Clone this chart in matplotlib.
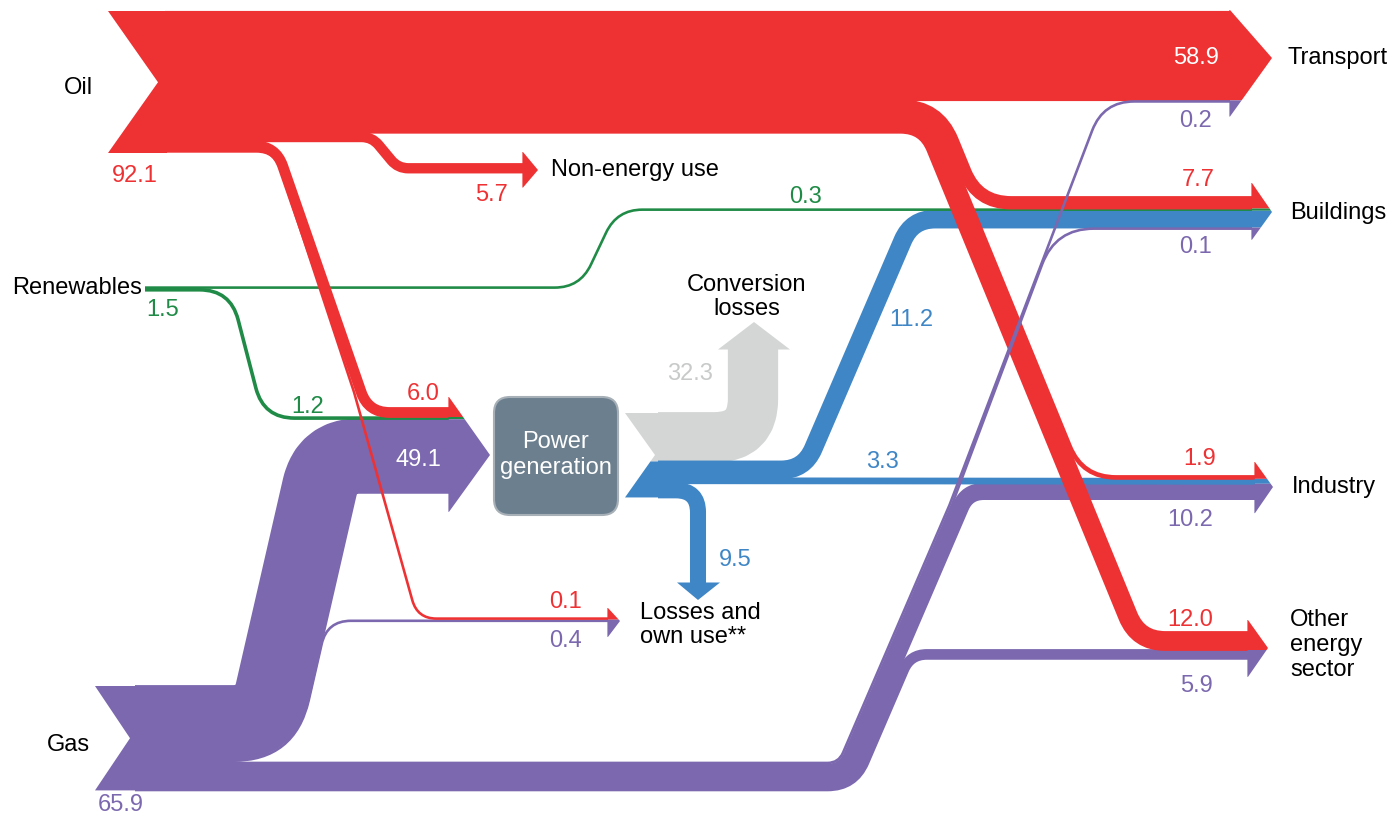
"""Energy flow Sankey: oil, renewables and gas through power generation to end uses."""

import matplotlib
matplotlib.use("Agg")
import matplotlib.pyplot as plt
import numpy as np
from matplotlib.path import Path
from matplotlib.patches import PathPatch, Polygon, FancyBboxPatch

plt.rcParams["font.family"] = ["Liberation Sans", "DejaVu Sans"]

# ---- data ----
source_names = ["Oil", "Renewables", "Gas"]
source_totals = [92.1, 1.5, 65.9]

oil_targets = ["transport", "buildings", "industry", "other", "nonenergy", "power", "losses"]
oil_values = [58.9, 7.7, 1.9, 12.0, 5.7, 6.0, 0.1]

ren_targets = ["buildings", "power"]
ren_values = [0.3, 1.2]

gas_targets = ["power", "losses", "transport", "buildings", "industry", "other"]
gas_values = [49.1, 0.4, 0.2, 0.1, 10.2, 5.9]

pg_targets = ["conversion", "buildings", "industry", "losses"]
pg_values = [32.3, 11.2, 3.3, 9.5]

target_names = {
    "transport": "Transport",
    "buildings": "Buildings",
    "industry": "Industry",
    "other": "Other\nenergy\nsector",
    "nonenergy": "Non-energy use",
    "conversion": "Conversion\nlosses",
    "losses": "Losses and\nown use**",
}

# ---- style ----
RED = "#ee3234"
PURPLE = "#7b68ae"
GREEN = "#1f8b46"
BLUE = "#3f86c6"
GRAY = "#d4d5d5"
BOX = "#6c7f8f"
COLORS = {"oil": RED, "ren": GREEN, "gas": PURPLE, "pg": BLUE}
FS = 17

S = 1.5          # px per unit
PT = 72 / 100    # px -> points at dpi 100


def band_w(v):
    return max(S * v + 1.8, 2.6)


def stack_h(v):
    return max(S * v, 2.2)


def stack(top, keys, vals):
    out = {}
    y = top
    for k, v in zip(keys, vals):
        h = stack_h(v)
        out[k] = (y, y + h, y + h / 2)
        y += h
    return out


val = {}
for src, tg, vs in [("oil", oil_targets, oil_values), ("ren", ren_targets, ren_values),
                    ("gas", gas_targets, gas_values), ("pg", pg_targets, pg_values)]:
    for t, v in zip(tg, vs):
        val[(src, t)] = v

src_stack = {
    "oil": stack(12, oil_targets, oil_values),
    "ren": stack(286.5, ren_targets, ren_values),
    "gas": stack(686, gas_targets, gas_values),
    "pg": stack(413, pg_targets, pg_values),
}

dest_order = {
    "transport": ["oil", "gas"],
    "buildings": ["oil", "ren", "pg", "gas"],
    "industry": ["oil", "pg", "gas"],
    "other": ["oil", "gas"],
    "nonenergy": ["oil"],
    "power": ["oil", "ren", "gas"],
    "losses": ["oil", "gas"],
}
dest_top = {"transport": 12, "buildings": 197, "industry": 476, "other": 632,
            "nonenergy": 164, "power": 408, "losses": 617.5}
dst_stack = {d: stack(dest_top[d], o, [val[(s, d)] for s in o]) for d, o in dest_order.items()}

# barb x, tip x, tip y, extension above, extension below
arrow_spec = {
    "transport": (1230, 1272, 58, 2, 14),
    "buildings": (1252, 1272, 212, 14, 10),
    "industry": (1255, 1273, 487, 14, 14),
    "other": (1248, 1268, 648, 12, 18),
    "nonenergy": (523, 538, 170, 12, 15),
    "power": (449, 490, 455, 11, 19),
    "losses": (608, 620, 621, 9.5, 15),
}


def rounded_path(points, radii):
    pts = [np.asarray(p, float) for p in points]
    n = len(pts)
    if np.isscalar(radii):
        radii = [radii] * (n - 2)
    verts = [pts[0]]
    codes = [Path.MOVETO]
    for i in range(1, n - 1):
        a, p, b = pts[i - 1], pts[i], pts[i + 1]
        la = np.linalg.norm(p - a)
        lb = np.linalg.norm(b - p)
        u1 = (p - a) / la
        u2 = (b - p) / lb
        ang = np.arccos(np.clip(np.dot(u1, u2), -1, 1))
        if ang < 1e-6 or radii[i - 1] <= 0:
            verts.append(p)
            codes.append(Path.LINETO)
            continue
        t = radii[i - 1] * np.tan(ang / 2)
        t = min(t, la * (0.5 if i > 1 else 1.0), lb * (0.5 if i < n - 2 else 1.0))
        verts += [p - u1 * t, p, p + u2 * t]
        codes += [Path.LINETO, Path.CURVE3, Path.CURVE3]
    verts.append(pts[-1])
    codes.append(Path.LINETO)
    return Path(verts, codes)


def clip_half(poly, y_line, keep_le):
    out = []
    n = len(poly)
    for i in range(n):
        p, q = poly[i], poly[(i + 1) % n]
        pin = p[1] <= y_line if keep_le else p[1] >= y_line
        qin = q[1] <= y_line if keep_le else q[1] >= y_line
        if pin:
            out.append(p)
        if pin != qin:
            t = (y_line - p[1]) / (q[1] - p[1])
            out.append((p[0] + t * (q[0] - p[0]), y_line))
    return out


def main():
    fig = plt.figure(figsize=(13.93, 8.17), dpi=100)
    ax = fig.add_axes([0, 0, 1, 1])
    ax.set_xlim(0, 1393)
    ax.set_ylim(817, 0)
    ax.axis("off")

    def flow(points, radii, v, color, z):
        ax.add_patch(PathPatch(rounded_path(points, radii), fill=False, ec=color,
                               lw=band_w(v) * PT, capstyle="butt", joinstyle="round",
                               zorder=z))

    def ys(s, t):
        return src_stack[s][t][2]

    def yd(s, t):
        return dst_stack[t][s][2]

    def xend(t):
        return arrow_spec[t][0]

    X_OIL, X_GAS, X_REN, X_PG = 165, 135, 145, 658

    # ---- oil ----
    st = src_stack["oil"]
    flow([(X_OIL, ys("oil", "transport")), (xend("transport"), yd("oil", "transport"))],
         0, val[("oil", "transport")], RED, 6)
    # red bundle to buildings / industry / other, running down a diagonal
    bc = (st["buildings"][0] + st["other"][1]) / 2
    dx0, dy0, ds = 1039, 380, 0.41
    kf = np.hypot(1, ds)
    r1 = {"buildings": 55, "industry": 48, "other": 38}
    r2 = {"buildings": 50, "industry": 50, "other": 40}
    for t in ["other", "industry", "buildings"]:
        d = ys("oil", t) - bc
        xm = lambda y, d=d: dx0 - kf * d + ds * (y - dy0)
        y1, y2 = ys("oil", t), yd("oil", t)
        flow([(X_OIL, y1), (xm(y1), y1), (xm(y2), y2), (xend(t), y2)],
             [r1[t], r2[t]], val[("oil", t)], RED, 6)
    y1, y2 = ys("oil", "nonenergy"), yd("oil", "nonenergy")
    flow([(X_OIL, y1), (372, y1), (398, y2), (xend("nonenergy"), y2)], [22, 22],
         val[("oil", "nonenergy")], RED, 6)
    y1, y2 = ys("oil", "power"), yd("oil", "power")
    xm = lambda y: 290 + 0.347 * (y - 187)
    flow([(X_OIL, y1), (xm(y1), y1), (xm(y2), y2), (xend("power"), y2)], [30, 30],
         val[("oil", "power")], RED, 6)
    # thin losses line hides inside the power branch, then runs on alone
    y1, y2 = ys("oil", "losses"), yd("oil", "losses")
    xm = lambda y: 287 + 0.347 * (y - 187)
    xq = lambda y: 354 + 0.28 * (y - 392)
    flow([(X_OIL, y1), (xm(y1), y1), (xq(392), 392), (xq(y2), y2), (xend("losses"), y2)],
         [25, 40, 25], val[("oil", "losses")], RED, 6.5)
    yb = st["losses"][1]
    ax.add_patch(Polygon([(108, 11), (167, 11), (167, yb + 0.5), (108, yb + 0.5),
                          (158, (12 + yb) / 2)], closed=True, fc=RED, ec="none", zorder=6))

    # ---- renewables ----
    y1, y2 = ys("ren", "buildings"), yd("ren", "buildings")
    flow([(X_REN, y1), (580, y1), (617, y2), (xend("buildings"), y2)], [40, 40],
         val[("ren", "buildings")], GREEN, 5)
    y1, y2 = ys("ren", "power"), yd("ren", "power")
    xm = lambda y: 240 + 0.26 * (y - 327)
    flow([(X_REN, y1), (xm(y1), y1), (xm(y2), y2), (xend("power"), y2)], [40, 40],
         val[("ren", "power")], GREEN, 5)

    # ---- gas ----
    sg = src_stack["gas"]
    y1, y2 = ys("gas", "power"), yd("gas", "power")
    xm = lambda y: 303 - 0.23 * (y - 560)
    flow([(X_GAS, y1), (xm(y1), y1), (xm(y2), y2), (xend("power"), y2)], [40, 40],
         val[("gas", "power")], PURPLE, 3)
    y1, y2 = ys("gas", "losses"), yd("gas", "losses")
    xm = lambda y: 341 - 0.23 * (y - 560)
    flow([(X_GAS, y1), (xm(y1), y1), (xm(y2), y2), (xend("losses"), y2)], [78, 30],
         val[("gas", "losses")], PURPLE, 2.9)
    bcg = (sg["transport"][0] + sg["other"][1]) / 2
    gx0, gy0, gs = 880, 700, -0.43
    kg = np.hypot(1, gs)
    for t in ["other", "industry"]:
        d = ys("gas", t) - bcg
        xm = lambda y, d=d: gx0 + kg * d + gs * (y - gy0)
        y1, y2 = ys("gas", t), yd("gas", t)
        flow([(X_GAS, y1), (xm(y1), y1), (xm(y2), y2), (xend(t), y2)],
             [30 + d, 25], val[("gas", t)], PURPLE, 3)
    y_exit = 505
    for t, s2, rr in [("transport", 0.381, 45), ("buildings", 0.375, 55)]:
        d = ys("gas", t) - bcg
        xm = lambda y, d=d: gx0 + kg * d + gs * (y - gy0)
        y1, y2 = ys("gas", t), yd("gas", t)
        xc = xm(y_exit) + s2 * (y_exit - y2)
        flow([(X_GAS, y1), (xm(y1), y1), (xm(y_exit), y_exit), (xc, y2), (xend(t), y2)],
             [max(30 + d, 5), 60, rr], val[("gas", t)], PURPLE, 7)
    yb = sg["other"][1]
    ax.add_patch(Polygon([(95, 686), (137, 686), (137, yb), (95, yb), (130, (686 + yb) / 2)],
                         closed=True, fc=PURPLE, ec="none", zorder=3))

    # ---- power generation outputs ----
    sp = src_stack["pg"]
    y1 = ys("pg", "conversion")
    flow([(X_PG, y1), (753, y1), (753, 349)], [38], val[("pg", "conversion")], GRAY, 2)
    ax.add_patch(Polygon([(718, 349.5), (790, 349.5), (754, 322)], closed=True,
                         fc=GRAY, ec="none", zorder=2))
    y1, y2 = ys("pg", "buildings"), yd("pg", "buildings")
    xm = lambda y: 857 - 0.43 * (y - 347)
    flow([(X_PG, y1), (xm(y1), y1), (xm(y2), y2), (xend("buildings"), y2)], [35, 35],
         val[("pg", "buildings")], BLUE, 4)
    y1, y2 = ys("pg", "industry"), yd("pg", "industry")
    flow([(X_PG, y1), (xend("industry"), y2)], 0, val[("pg", "industry")], BLUE, 4)
    y1 = ys("pg", "losses")
    flow([(X_PG, y1), (698, y1), (698, 583)], [22], val[("pg", "losses")], BLUE, 4)
    ax.add_patch(Polygon([(677, 582.5), (720, 582.5), (698, 600)], closed=True,
                         fc=BLUE, ec="none", zorder=4))
    tail = [(625, 413), (660, 413), (660, sp["losses"][1]), (625, sp["losses"][1]), (655, 455)]
    ysplit = sp["conversion"][1]
    ax.add_patch(Polygon(clip_half(tail, ysplit, True), closed=True, fc=GRAY, ec="none", zorder=2))
    ax.add_patch(Polygon(clip_half(tail, ysplit, False), closed=True, fc=BLUE, ec="none", zorder=4))

    # ---- arrowheads at destinations ----
    for t, (xb, xt, yc, et, eb) in arrow_spec.items():
        order = dest_order[t]
        bands = [(dst_stack[t][s][0], dst_stack[t][s][1], COLORS[s]) for s in order]
        Y0, Y1 = bands[0][0], bands[-1][1]
        tri = [(xb - 0.6, Y0 - et), (xb, Y0 - et), (xt, yc), (xb, Y1 + eb), (xb - 0.6, Y1 + eb)]
        for i, (y0, y1, c) in enumerate(bands):
            poly = tri
            if i > 0:
                poly = clip_half(poly, y0, False)
            if i < len(bands) - 1:
                poly = clip_half(poly, y1, True)
            ax.add_patch(Polygon(poly, closed=True, fc=c, ec="none", zorder=8))

    # ---- power generation box ----
    ax.add_patch(FancyBboxPatch((494, 397), 124, 118, boxstyle="round,pad=0,rounding_size=16",
                                fc=BOX, ec="#a7b0b7", lw=1.5, zorder=9))
    ax.text(556, 455, "Power\ngeneration", color="white", fontsize=FS, ha="center",
            va="center", linespacing=1.2, zorder=10)

    # ---- labels ----
    txt = dict(fontsize=FS, zorder=10)
    ax.text(78, 88, source_names[0], ha="center", va="center", **txt)
    ax.text(12, 288, source_names[1], ha="left", va="center", **txt)
    ax.text(68, 745, source_names[2], ha="center", va="center", **txt)
    for (x, y), tot, c in zip([(135, 176), (163, 310), (121, 805)], source_totals,
                              [RED, GREEN, PURPLE]):
        ax.text(x, y, f"{tot:.1f}", color=c, ha="center", va="center", **txt)

    ax.text(1288, 58, target_names["transport"], ha="left", va="center", **txt)
    ax.text(1290, 213, target_names["buildings"], ha="left", va="center", **txt)
    ax.text(1292, 487, target_names["industry"], ha="left", va="center", **txt)
    ax.text(1290, 645, target_names["other"], ha="left", va="center", linespacing=1.15, **txt)
    ax.text(551, 170, target_names["nonenergy"], ha="left", va="center", **txt)
    ax.text(747, 297, target_names["conversion"], ha="center", va="center", linespacing=1.15, **txt)
    ax.text(640, 625, target_names["losses"], ha="left", va="center", linespacing=1.15, **txt)

    val_labels = [
        ("oil", "transport", 1196, 58, "white"),
        ("gas", "transport", 1196, 121, None),
        ("oil", "buildings", 1198, 180, None),
        ("gas", "buildings", 1196, 247, None),
        ("ren", "buildings", 805, 197, None),
        ("pg", "buildings", 911, 320, None),
        ("oil", "industry", 1200, 459, None),
        ("gas", "industry", 1190, 520, None),
        ("pg", "industry", 882, 462, None),
        ("oil", "other", 1190, 620, None),
        ("gas", "other", 1196, 686, None),
        ("oil", "nonenergy", 492, 195, None),
        ("oil", "power", 423, 394, None),
        ("ren", "power", 308, 407, None),
        ("gas", "power", 418, 460, "white"),
        ("oil", "losses", 566, 602, None),
        ("gas", "losses", 566, 641, None),
        ("pg", "conversion", 690, 374, "#c8cac9"),
        ("pg", "losses", 735, 560, None),
    ]
    for s, t, x, y, c in val_labels:
        ax.text(x, y, f"{val[(s, t)]:.1f}", color=c or COLORS[s], ha="center", va="center", **txt)

    fig.savefig("out.png", dpi=100)
    plt.close(fig)


if __name__ == "__main__":
    main()
